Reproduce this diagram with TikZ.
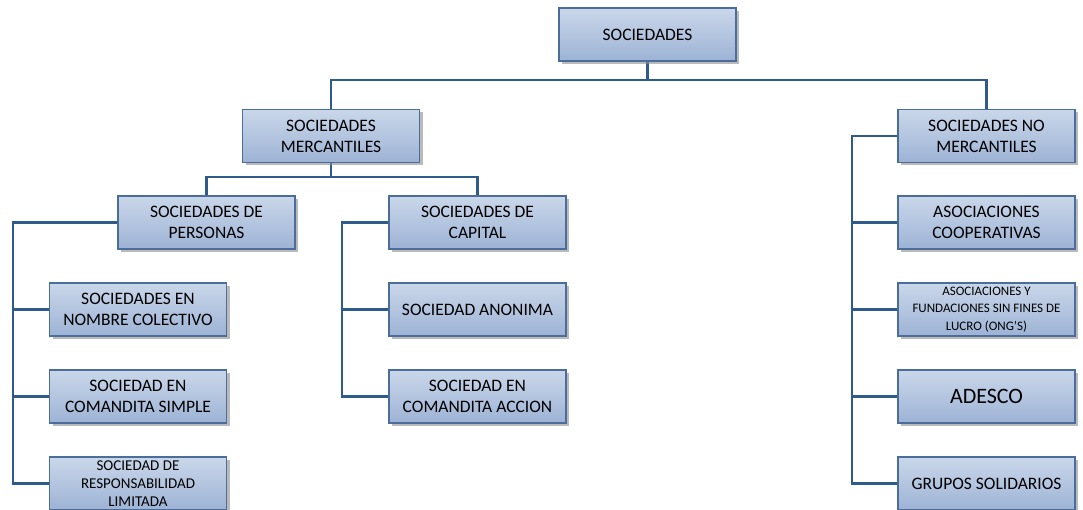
\documentclass[tikz,border=0pt]{standalone}
\usepackage{fontspec}
\setmainfont{Carlito}
\usetikzlibrary{shadows}
\pgfdeclarelayer{background}
\pgfsetlayers{background,main}
\definecolor{boxtop}{HTML}{CAD7EA}
\definecolor{boxbot}{HTML}{9DB3D5}
\definecolor{boxline}{HTML}{4A6D9C}
\definecolor{wire}{HTML}{2E5A8C}
\tikzset{
  orgbox/.style={draw=boxline, line width=1.1pt, top color=boxtop, bottom color=boxbot,
    minimum width=177pt, minimum height=53pt, align=center, inner sep=2pt,
    font=\fontsize{17.5}{21}\selectfont,
    drop shadow={shadow xshift=3pt, shadow yshift=-3pt, fill=black!45, opacity=0.6}},
  wireline/.style={draw=wire, line width=2.2pt}
}
\begin{document}
\begin{tikzpicture}[x=1pt,y=-1pt]
\useasboundingbox (0,0) rectangle (1083,510);
% top level
\node[orgbox] (soc) at (647.5,34.5) {SOCIEDADES};
\node[orgbox] (merc) at (331,136) {SOCIEDADES\\MERCANTILES};
\node[orgbox] (nomerc) at (986.5,136) {SOCIEDADES NO\\MERCANTILES};
% mercantile branch
\node[orgbox] (pers) at (206.5,222.5) {SOCIEDADES DE\\PERSONAS};
\node[orgbox] (cap) at (477.5,222.5) {SOCIEDADES DE\\CAPITAL};
\node[orgbox] (col) at (138,309.5) {SOCIEDADES EN\\NOMBRE COLECTIVO};
\node[orgbox] (sim) at (138,396.5) {SOCIEDAD EN\\COMANDITA SIMPLE};
\node[orgbox, font=\fontsize{15}{18}\selectfont] (resp) at (138,483.5) {SOCIEDAD DE\\RESPONSABILIDAD\\LIMITADA};
\node[orgbox] (anon) at (477.5,309.5) {SOCIEDAD ANONIMA};
\node[orgbox] (acc) at (477.5,396.5) {SOCIEDAD EN\\COMANDITA ACCION};
% non-mercantile branch
\node[orgbox] (coop) at (986.5,222.5) {ASOCIACIONES\\COOPERATIVAS};
\node[orgbox, font=\fontsize{13}{17.5}\selectfont] (asoc) at (986.5,309.5) {ASOCIACIONES Y\\FUNDACIONES SIN FINES DE\\LUCRO (ONG’S)};
\node[orgbox, font=\fontsize{22}{26}\selectfont] (adesco) at (986.5,396.5) {ADESCO};
\node[orgbox] (grupos) at (986.5,483.5) {GRUPOS SOLIDARIOS};
% connectors
\coordinate (bus1) at (647.5,80);
\coordinate (bus2) at (331,177);
\coordinate (tp) at (13,222.5);
\coordinate (tc) at (342,222.5);
\coordinate (tn) at (852,136);
\begin{pgfonlayer}{background}
\draw[wireline] (soc.south) -- (bus1);
\draw[wireline] (merc.north) |- (bus1) -| (nomerc.north);
\draw[wireline] (merc.south) -- (bus2);
\draw[wireline] (pers.north) |- (bus2) -| (cap.north);
\draw[wireline] (pers.west) -- (tp) |- (resp.west);
\draw[wireline] (tp |- col.west) -- (col.west);
\draw[wireline] (tp |- sim.west) -- (sim.west);
\draw[wireline] (cap.west) -- (tc) |- (acc.west);
\draw[wireline] (tc |- anon.west) -- (anon.west);
\draw[wireline] (nomerc.west) -- (tn) |- (grupos.west);
\draw[wireline] (tn |- coop.west) -- (coop.west);
\draw[wireline] (tn |- asoc.west) -- (asoc.west);
\draw[wireline] (tn |- adesco.west) -- (adesco.west);
\end{pgfonlayer}
\end{tikzpicture}
\end{document}
